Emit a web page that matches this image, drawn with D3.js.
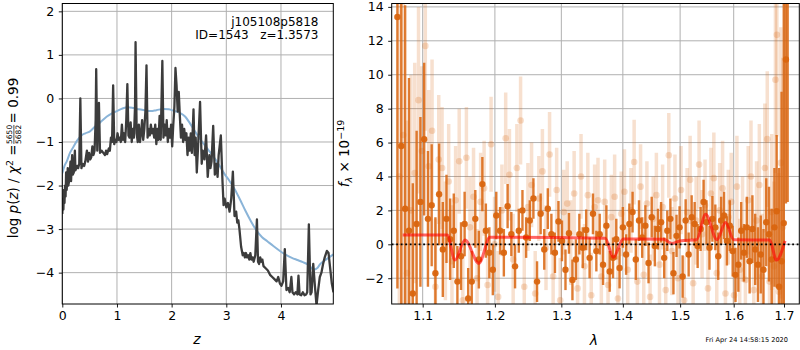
<!DOCTYPE html>
<html><head><meta charset="utf-8">
<script src="https://cdn.jsdelivr.net/npm/d3@7"></script>
<style>body{margin:0;background:#fff} svg{font-family:"DejaVu Sans",sans-serif}</style>
</head><body><svg id="c" width="800" height="350"></svg>
<script>
// ---------- Left panel: p(z) ----------
const zLine = [0.00,0.01,0.02,0.03,0.04,0.05,0.06,0.07,0.08,0.10,0.11,0.13,0.15,0.16,0.18,0.19,0.21,0.23,0.24,0.27,0.29,0.31,0.33,0.35,0.37,0.40,0.42,0.45,0.47,0.49,0.51,0.53,0.55,0.57,0.59,0.61,0.62,0.64,0.65,0.67,0.69,0.72,0.75,0.78,0.80,0.82,0.85,0.87,0.89,0.91,0.93,0.95,0.97,0.99,1.01,1.03,1.05,1.07,1.09,1.11,1.13,1.15,1.17,1.19,1.21,1.23,1.25,1.27,1.29,1.31,1.33,1.34,1.36,1.38,1.40,1.42,1.44,1.46,1.48,1.50,1.52,1.54,1.56,1.58,1.60,1.62,1.64,1.66,1.68,1.70,1.72,1.74,1.76,1.78,1.80,1.83,1.85,1.87,1.89,1.91,1.93,1.95,1.97,1.99,2.01,2.03,2.05,2.07,2.09,2.11,2.13,2.15,2.17,2.19,2.21,2.23,2.25,2.27,2.29,2.31,2.33,2.35,2.37,2.40,2.42,2.44,2.46,2.48,2.52,2.55,2.57,2.60,2.63,2.66,2.69,2.71,2.73,2.76,2.79,2.82,2.84,2.86,2.90,2.93,2.95,2.97,3.00,3.03,3.06,3.09,3.12,3.15,3.18,3.20,3.22,3.24,3.27,3.30,3.32,3.34,3.36,3.38,3.40,3.42,3.44,3.46,3.48,3.50,3.53,3.56,3.58,3.60,3.62,3.64,3.66,3.68,3.72,3.76,3.80,3.84,3.88,3.92,3.95,3.98,4.01,4.04,4.07,4.10,4.13,4.16,4.19,4.21,4.24,4.27,4.30,4.32,4.34,4.37,4.40,4.43,4.46,4.48,4.51,4.54,4.56,4.59,4.62,4.65,4.68,4.71,4.74,4.77,4.80,4.84,4.87,4.90,4.93,4.96];
const logpLine = [-2.65,-2.3,-2.55,-2.1,-2.4,-2.0,-2.25,-1.7,-2.1,-1.6,-2.0,-1.85,-1.45,-1.9,-1.3,-1.75,-1.7,-1.2,-1.65,-1.55,-1.6,-1.5,0.0,-1.6,-1.5,-1.55,-1.45,-1.2,-1.45,-1.25,-1.4,-1.35,-1.1,-1.3,-1.2,-0.5,0.67,-1.2,-0.6,-0.1,-1.25,-1.2,-1.25,-1.3,-1.2,-1.28,-1.15,-1.2,-0.9,-1.0,0.3,-1.05,-0.95,-1.0,-0.8,-0.95,-0.9,-1.0,-0.6,-0.95,-0.8,-1.0,-0.5,0.33,-0.85,-0.9,-0.55,-1.0,-0.7,-0.9,-0.2,1.29,-0.8,-1.0,-0.6,-1.0,-0.8,-0.5,-0.95,-0.7,-0.3,0.76,-0.9,-0.7,-0.85,-0.6,-0.8,-0.7,-0.9,-0.6,-1.05,-0.7,-0.95,-0.4,-0.95,0.86,-0.9,-0.6,-0.85,-0.5,-1.0,-0.7,-0.9,-0.6,-1.1,-0.6,-0.2,0.70,0.3,-0.3,0.15,-0.4,-0.9,-0.6,-1.0,-0.7,-0.95,-0.8,-1.3,-0.9,-1.2,-0.8,-1.25,-0.25,-1.3,-0.9,-1.7,-1.2,-0.08,-1.5,-1.2,-1.4,-0.85,-1.8,-1.3,-1.6,-1.45,-0.63,-1.75,-1.5,-1.8,-1.3,-0.85,-1.9,-2.45,-2.3,-2.5,-2.4,-2.6,-2.3,-1.68,-2.7,-2.6,-2.85,-2.8,-3.0,-3.4,-3.6,-3.55,-3.65,-3.55,-3.65,-3.6,-3.7,-3.55,-3.7,-3.65,-3.75,-3.6,-2.78,-3.75,-3.8,-3.65,-3.75,-3.7,-3.85,-3.9,-3.95,-4.05,-4.1,-4.15,-4.2,-4.1,-4.25,-4.3,-4.2,-3.46,-4.4,-4.35,-4.45,-4.1,-4.45,-4.5,-4.45,-4.5,-4.07,-4.5,-4.52,-4.45,-4.52,-4.5,-4.45,-2.89,-4.5,-4.45,-3.8,-4.3,-4.75,-4.4,-4.1,-4.0,-3.8,-3.65,-3.5,-3.55,-3.9,-4.25,-4.45];
const zSmooth = [0,0.04,0.08,0.14,0.2,0.27,0.35,0.42,0.5,0.58,0.65,0.72,0.81,0.9,1.0,1.1,1.2,1.3,1.4,1.5,1.62,1.72,1.85,1.95,2.05,2.15,2.25,2.33,2.4,2.48,2.56,2.64,2.72,2.8,2.88,2.96,3.05,3.15,3.25,3.35,3.45,3.55,3.65,3.75,3.86,4.0,4.1,4.2,4.3,4.4,4.5,4.6,4.66,4.72,4.8,4.88,4.96];
const logpSmooth = [-1.72,-1.55,-1.45,-1.25,-1.12,-0.97,-0.85,-0.8,-0.76,-0.67,-0.6,-0.52,-0.42,-0.35,-0.29,-0.23,-0.2,-0.22,-0.25,-0.27,-0.29,-0.27,-0.24,-0.25,-0.29,-0.33,-0.42,-0.56,-0.7,-0.86,-1.0,-1.13,-1.26,-1.4,-1.55,-1.72,-1.88,-2.08,-2.32,-2.58,-2.82,-3.03,-3.18,-3.28,-3.39,-3.52,-3.6,-3.66,-3.71,-3.76,-3.82,-3.93,-3.9,-3.8,-3.72,-3.65,-3.58];
const leftXTicks = [0,1,2,3,4];
const leftYTicks = [-4,-3,-2,-1,0,1,2];
const objName = "j105108p5818";
const objInfo = "ID=1543   z=1.3573";

// ---------- Right panel: spectrum ----------
const darkLam = [1.0670,1.0720,1.0770,1.0820,1.0870,1.0920,1.0970,1.1020,1.1070,1.1120,1.1170,1.1220,1.1270,1.1320,1.1370,1.1420,1.1470,1.1520,1.1570,1.1620,1.1670,1.1720,1.1770,1.1820,1.1870,1.1920,1.1970,1.2020,1.2075,1.2130,1.2185,1.2240,1.2295,1.2350,1.2405,1.2460,1.2515,1.2570,1.2625,1.2680,1.2735,1.2790,1.2845,1.2900,1.2955,1.3010,1.3065,1.3120,1.3175,1.3230,1.3285,1.3340,1.3395,1.3450,1.3505,1.3560,1.3615,1.3670,1.3725,1.3780,1.3835,1.3890,1.3945,1.4000,1.4055,1.4110,1.4165,1.4220,1.4275,1.4330,1.4385,1.4440,1.4495,1.4550,1.4605,1.4660,1.4715,1.4770,1.4825,1.4880,1.4935,1.4990,1.5045,1.5100,1.5155,1.5210,1.5265,1.5320,1.5375,1.5430,1.5485,1.5540,1.5595,1.5650,1.5705,1.5760,1.5815,1.5870,1.5925,1.5980,1.6035,1.6090,1.6145,1.6200,1.6255,1.6310,1.6365,1.6420,1.6475,1.6530,1.6585,1.6640,1.6695,1.6750,1.6805,1.6850,1.6900,1.6950,1.6995,1.7040,1.7075];
const darkFlux = [13.4,5.8,2.1,0.8,-2.9,1.2,2.5,6.2,1.5,2.3,-1.7,2.95,-0.3,1.5,0.3,0.8,-2.2,-0.7,1.2,-3.2,-2.2,1.5,-0.9,3.55,0.8,-0.5,-1.5,1.7,0.8,-0.5,2.25,0.6,-1.3,0.8,2.0,0.4,1.4,2.7,-2.2,1.8,-0.3,2.1,0.6,-0.5,1.35,0.2,-1.5,0.65,-2.1,-0.9,0.6,-0.2,0.85,-0.8,1.8,-0.4,0.6,-1.2,1.1,-1.6,-0.8,0.3,-1.4,1.0,-0.6,1.2,1.9,-0.9,1.4,0.4,1.1,-1.1,1.6,-0.1,0.9,1.3,-0.8,0.8,1.5,-1.7,0.5,1.0,-1.9,1.4,-0.6,1.6,1.2,-0.1,0.9,2.5,1.3,-0.2,1.5,1.0,-0.7,1.4,1.7,0.2,1.1,-0.4,-1.8,-1.2,0.8,-0.5,1.0,-1.0,0.9,-0.3,-1.2,-0.6,-1.5,1.3,0.6,-0.9,1.0,1.95,-2.5,-1.0,1.25,10.9,18];
const darkErr = [16,14,12,9,6.5,5.5,5,4.5,4,3.6,3.3,3.0,2.8,2.6,2.4,2.2,2.1,2.0,1.9,1.8,1.8,1.7,1.7,1.6,1.6,1.5,1.5,1.4,1.4,1.4,1.3,1.3,1.3,1.3,1.2,1.2,1.2,1.2,1.2,1.2,1.2,1.2,1.2,1.2,1.2,1.2,1.2,1.2,1.2,1.2,1.2,1.2,1.2,1.2,1.2,1.2,1.2,1.2,1.2,1.2,1.2,1.2,1.2,1.2,1.2,1.2,1.2,1.2,1.2,1.2,1.2,1.2,1.2,1.2,1.2,1.2,1.2,1.2,1.2,1.25,1.25,1.25,1.25,1.25,1.3,1.3,1.3,1.3,1.3,1.3,1.3,1.3,1.35,1.35,1.4,1.4,1.4,1.45,1.5,1.5,1.6,1.6,1.7,1.7,1.8,1.9,2.0,2.1,2.2,2.3,2.4,2.6,2.8,3.0,3.5,4.5,7,10,14,8.5,15.5];
const lightLam = [1.0695,1.0745,1.0795,1.0845,1.0895,1.0945,1.0990,1.1035,1.1080,1.1125,1.1170,1.1215,1.1260,1.1305,1.1350,1.1395,1.1445,1.1495,1.1545,1.1595,1.1645,1.1695,1.1745,1.1795,1.1845,1.1895,1.1945,1.1995,1.2047,1.2102,1.2157,1.2212,1.2267,1.2322,1.2377,1.2432,1.2487,1.2542,1.2597,1.2652,1.2707,1.2762,1.2817,1.2872,1.2927,1.2982,1.3037,1.3092,1.3147,1.3202,1.3257,1.3312,1.3367,1.3422,1.3477,1.3532,1.3587,1.3642,1.3697,1.3752,1.3807,1.3862,1.3917,1.3972,1.4027,1.4082,1.4137,1.4192,1.4247,1.4302,1.4357,1.4412,1.4467,1.4522,1.4577,1.4632,1.4687,1.4742,1.4797,1.4852,1.4907,1.4962,1.5017,1.5072,1.5127,1.5182,1.5237,1.5292,1.5347,1.5402,1.5457,1.5512,1.5567,1.5622,1.5677,1.5732,1.5787,1.5842,1.5897,1.5952,1.6007,1.6062,1.6117,1.6172,1.6227,1.6282,1.6337,1.6392,1.6447,1.6502,1.6557,1.6612,1.6660,1.6705,1.6750,1.6795,1.6825,1.6855,1.6895,1.6935,1.6975];
const lightFlux = [4.0,6.45,-1.7,2.0,4.2,8.5,5.5,11.7,4.6,6.7,-2.5,5.0,4.5,0.2,3.7,-1.0,2.6,4.9,-3.3,5.1,1.0,2.8,-2.0,2.5,3.3,-2.4,5.9,0.0,-3.1,2.0,6.25,4.1,-0.9,4.5,7.3,-2.5,2.2,3.5,-2.9,2.7,4.3,-0.2,5.3,-1.9,3.2,-3.3,1.9,2.4,0.1,3.0,-2.6,4.0,-1.3,2.9,-3.0,2.2,2.6,-1.9,2.5,-2.4,1.6,2.8,-3.2,1.8,3.1,-1.5,2.0,4.85,-2.2,3.4,-1.8,2.4,-3.1,1.5,2.9,-1.2,2.2,-2.7,5.25,-0.4,2.7,-2.0,3.2,-3.3,1.9,3.8,-2.3,1.4,4.7,0.6,2.3,-2.6,3.0,3.9,-1.7,2.0,3.3,-2.9,1.6,2.5,-3.0,3.4,-1.5,0.9,-2.1,2.6,4.0,-2.7,1.4,3.5,-1.9,4.5,6.2,-2.2,1.9,-1.3,9.7,12.35,-2.8,4.8,1.0];
const lightErr = [14,10,9,8,6.5,5.5,5,5,4.5,4.2,4,3.8,3.6,3.5,3.4,3.3,3.2,3.1,3.0,3.0,3.0,2.9,2.9,2.9,2.8,2.8,2.8,2.8,2.7,2.7,2.7,2.7,2.7,2.6,2.6,2.6,2.6,2.5,2.5,2.5,2.5,2.5,2.5,2.5,2.5,2.5,2.5,2.5,2.5,2.5,2.5,2.5,2.5,2.5,2.5,2.5,2.5,2.5,2.5,2.5,2.5,2.5,2.5,2.5,2.5,2.5,2.5,2.5,2.5,2.5,2.5,2.5,2.5,2.5,2.5,2.5,2.5,2.5,2.5,2.6,2.6,2.6,2.6,2.6,2.6,2.6,2.6,2.6,2.6,2.6,2.7,2.7,2.7,2.7,2.7,2.8,2.8,2.8,2.8,2.9,2.9,3.0,3.0,3.1,3.1,3.2,3.3,3.4,3.5,3.6,3.7,3.8,4.0,4.3,4.6,5.0,5.5,6,7,8,10];
const modelLam = [1.0738,1.133,1.1436,1.1575,1.1771,1.1928,1.2,1.3707,1.384,1.4006,1.4705,1.4853,1.4998,1.5302,1.5469,1.568,1.5844,1.6,1.671,1.6845,1.7021];
const modelFlux = [0.55,0.55,-0.93,0.25,-1.12,0.41,0.42,0.35,-0.77,0.31,0.3,0.05,0.2,0.27,1.77,0.27,1.28,0.27,0.25,-0.93,0.2];
const rightXTicks = [1.1,1.2,1.3,1.4,1.5,1.6,1.7];
const rightYTicks = [-2,0,2,4,6,8,10,12,14];
const stamp = "Fri Apr 24 14:58:15 2020";

// ---------- drawing ----------
const svg = d3.select("#c");
const FS = 12.5;
const GRID = "#b0b0b0";
const L = {x0:62.3, x1:333.3, y0:3.5, y1:304};
const R = {x0:391.7, x1:799.3, y0:3.5, y1:304};

const xL = d3.scaleLinear().domain([0,4.957]).range([L.x0,L.x1]);
const yL = d3.scaleLinear().domain([-4.72,2.18]).range([L.y1,L.y0]);
const xR = d3.scaleLog().domain([1.0597,1.7316]).range([R.x0,R.x1]);
const yR = d3.scaleLinear().domain([-3.52,14.2]).range([R.y1,R.y0]);

function clip(id, b){
  svg.append("clipPath").attr("id",id).append("rect")
    .attr("x",b.x0).attr("y",b.y0).attr("width",b.x1-b.x0).attr("height",b.y1-b.y0);
}
clip("cl",L); clip("cr",R);

function panel(b, x, y, xt, yt, xfmt, yfmt){
  const g = svg.append("g");
  g.selectAll(".gx").data(xt).enter().append("line")
    .attr("x1",d=>x(d)).attr("x2",d=>x(d)).attr("y1",b.y0).attr("y2",b.y1)
    .attr("stroke",GRID).attr("stroke-width",1);
  g.selectAll(".gy").data(yt).enter().append("line")
    .attr("y1",d=>y(d)).attr("y2",d=>y(d)).attr("x1",b.x0).attr("x2",b.x1)
    .attr("stroke",GRID).attr("stroke-width",1);
  const ax = svg.append("g").attr("transform",`translate(0,${b.y1})`)
    .call(d3.axisBottom(x).tickValues(xt).tickFormat(xfmt).tickSize(3.5).tickPadding(4));
  const ay = svg.append("g").attr("transform",`translate(${b.x0},0)`)
    .call(d3.axisLeft(y).tickValues(yt).tickFormat(yfmt).tickSize(3.5).tickPadding(4.5));
  [ax,ay].forEach(a=>{
    a.select(".domain").remove();
    a.selectAll("text").attr("font-size",FS).attr("fill","#000").attr("font-family","DejaVu Sans");
    a.selectAll("line").attr("stroke","#000").attr("stroke-width",0.9);
  });
  return g;
}
function frame(b){
  svg.append("rect").attr("x",b.x0).attr("y",b.y0).attr("width",b.x1-b.x0).attr("height",b.y1-b.y0)
    .attr("fill","none").attr("stroke","#000").attr("stroke-width",1);
}

// left panel
panel(L,xL,yL,leftXTicks,leftYTicks,d3.format("d"),d3.format("d"));
const gl = svg.append("g").attr("clip-path","url(#cl)");
gl.append("path").datum(d3.range(zSmooth.length))
  .attr("d",d3.line().x(i=>xL(zSmooth[i])).y(i=>yL(logpSmooth[i])).curve(d3.curveMonotoneX))
  .attr("fill","none").attr("stroke","#8ab4d8").attr("stroke-width",2);
gl.append("path").datum(d3.range(zLine.length))
  .attr("d",d3.line().x(i=>xL(zLine[i])).y(i=>yL(logpLine[i])))
  .attr("fill","none").attr("stroke","#3c3c3c").attr("stroke-width",2.3).attr("stroke-linejoin","round");
frame(L);
svg.append("text").attr("x",318.5).attr("y",25.5).attr("text-anchor","end").attr("font-size",12).text(objName);
svg.append("text").attr("x",318.5).attr("y",38.5).attr("text-anchor","end").attr("font-size",12)
  .style("white-space","pre").text(objInfo);

// right panel
panel(R,xR,yR,rightXTicks,rightYTicks,d3.format(".1f"),d3.format("d"));
const gr = svg.append("g").attr("clip-path","url(#cr)");
const ORANGE = "#d9650f";
const li = d3.range(lightLam.length);
gr.selectAll(".le").data(li).enter().append("line")
  .attr("x1",i=>xR(lightLam[i])).attr("x2",i=>xR(lightLam[i]))
  .attr("y1",i=>yR(lightFlux[i]-lightErr[i])).attr("y2",i=>yR(lightFlux[i]+lightErr[i]))
  .attr("stroke",ORANGE).attr("stroke-opacity",0.2).attr("stroke-width",3.5);
gr.selectAll(".lp").data(li).enter().append("circle")
  .attr("cx",i=>xR(lightLam[i])).attr("cy",i=>yR(lightFlux[i])).attr("r",3.3)
  .attr("fill",ORANGE).attr("fill-opacity",0.22);
const di = d3.range(darkLam.length);
gr.selectAll(".de").data(di).enter().append("line")
  .attr("x1",i=>xR(darkLam[i])).attr("x2",i=>xR(darkLam[i]))
  .attr("y1",i=>yR(darkFlux[i]-darkErr[i])).attr("y2",i=>yR(darkFlux[i]+darkErr[i]))
  .attr("stroke",ORANGE).attr("stroke-opacity",0.85).attr("stroke-width",2.4);
gr.selectAll(".dp").data(di).enter().append("circle")
  .attr("cx",i=>xR(darkLam[i])).attr("cy",i=>yR(darkFlux[i])).attr("r",3.2)
  .attr("fill",ORANGE).attr("fill-opacity",0.95);
gr.append("path").datum(d3.range(modelLam.length))
  .attr("d",d3.line().x(i=>xR(modelLam[i])).y(i=>yR(modelFlux[i])).curve(d3.curveMonotoneX))
  .attr("fill","none").attr("stroke","#ff0000").attr("stroke-opacity",0.6).attr("stroke-width",3);
gr.append("line").attr("x1",R.x0).attr("x2",R.x1).attr("y1",yR(0)).attr("y2",yR(0))
  .attr("stroke","#000").attr("stroke-width",1.8).attr("stroke-dasharray","1.8,2.7");
frame(R);

// axis labels
svg.append("text").attr("x",197).attr("y",344).attr("text-anchor","middle").attr("font-size",14)
  .attr("font-style","italic").text("z");
svg.append("text").attr("x",594).attr("y",345).attr("text-anchor","middle").attr("font-size",14)
  .attr("font-style","italic").text("λ");

// left y label (rotated) with fraction
(function(){
  const fs = 13.5, sm = 7.5;
  const g = svg.append("g");
  const inner = g.append("g");
  const t1 = inner.append("text").attr("font-size",fs).attr("x",0).attr("y",0);
  t1.append("tspan").text("log ");
  t1.append("tspan").attr("font-style","italic").text("p");
  t1.append("tspan").text("(");
  t1.append("tspan").attr("font-style","italic").text("z");
  t1.append("tspan").text(") / ");
  t1.append("tspan").attr("font-style","italic").text("χ");
  t1.append("tspan").attr("font-size",9.5).attr("dy",-5).text("2");
  t1.append("tspan").attr("dy",5).text(" = ");
  const w1 = t1.node().getComputedTextLength();
  const fw = 20;
  inner.append("text").attr("font-size",sm).attr("x",w1+fw/2).attr("y",-5.6).attr("text-anchor","middle").text("5650");
  inner.append("text").attr("font-size",sm).attr("x",w1+fw/2).attr("y",3.4).attr("text-anchor","middle").text("5682");
  inner.append("line").attr("x1",w1+0.5).attr("x2",w1+fw-0.5).attr("y1",-4.1).attr("y2",-4.1).attr("stroke","#000").attr("stroke-width",0.7);
  const t3 = inner.append("text").attr("font-size",fs).attr("x",w1+fw+1).attr("y",0).text(" = 0.99");
  const tot = w1+fw+1+t3.node().getComputedTextLength();
  inner.attr("transform",`translate(${-tot/2},0)`);
  g.attr("transform",`translate(18,158) rotate(-90)`);
})();

// right y label
(function(){
  const g = svg.append("g");
  const t = g.append("text").attr("font-size",13.5).attr("text-anchor","middle");
  t.append("tspan").attr("font-style","italic").text("f");
  t.append("tspan").attr("font-size",9.5).attr("dy",3).attr("font-style","italic").text("λ");
  t.append("tspan").attr("dy",-3).text(" × 10");
  t.append("tspan").attr("font-size",9.5).attr("dy",-5.5).text("−19");
  g.attr("transform","translate(349,153.5) rotate(-90)");
})();

svg.append("text").attr("x",788).attr("y",342).attr("text-anchor","end").attr("font-size",6.6).text(stamp);
</script></body></html>
